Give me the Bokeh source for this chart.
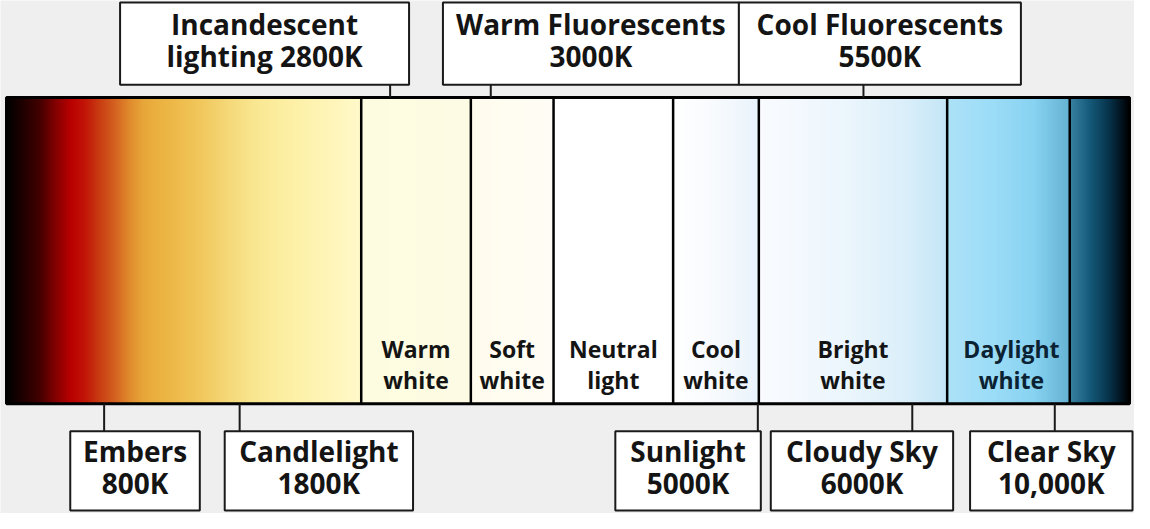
import numpy as np
from bokeh.plotting import figure
from bokeh.models import Range1d, ColumnDataSource
from bokeh.core.properties import value
from bokeh.embed import file_html
from bokeh.resources import INLINE

# ---------------- data ----------------
band_line1 = ["Warm", "Soft", "Neutral", "Cool", "Bright", "Daylight"]
band_line2 = ["white", "white", "light", "white", "white", "white"]

top_line1 = ["Incandescent", "Warm Fluorescents", "Cool Fluorescents"]
top_line2 = ["lighting 2800K", "3000K", "5500K"]

bottom_line1 = ["Embers", "Candlelight", "Sunlight", "Cloudy Sky", "Clear Sky"]
bottom_line2 = ["800K", "1800K", "5000K", "6000K", "10,000K"]

# ---------------- layout ----------------
bar_left, bar_right, bar_top, bar_bottom = 8, 1135, 102, 415
band_edges = [8, 364, 474, 557, 677, 763, 952, 1075, 1135]

top_box_left = [122, 446, 743]
top_box_right = [412, 743, 1026]
top_box_top, top_box_bottom = 5, 89
top_conn_x = [393, 494, 868]

bot_box_left = [72, 227, 619, 775, 975]
bot_box_right = [202, 416, 765, 958, 1138]
bot_box_top, bot_box_bottom = 443, 524
bot_conn_x = [106, 242, 762, 917, 1060]

# gradient colour stops per band (style)
grad_stops = [
    [(8, "#000000"), (20, "#160000"), (41, "#420000"), (58, "#860000"), (72, "#b80000"),
     (86, "#c21408"), (100, "#c83a12"), (115, "#d45e20"), (130, "#e0882c"), (145, "#e8a73a"),
     (165, "#ecb442"), (200, "#f1c65a"), (230, "#f5d878"), (255, "#f9e690"), (290, "#fdf0a4"),
     (330, "#fff5b8"), (364, "#fffacb")],
    [(364, "#fffde0"), (474, "#fdfbe4")],
    [(474, "#fffcee"), (557, "#fffdf6")],
    [(557, "#ffffff"), (677, "#ffffff")],
    [(677, "#ffffff"), (720, "#f8fbfe"), (763, "#eaf4fc")],
    [(763, "#fafcff"), (850, "#ecf6fd"), (910, "#dbeffa"), (952, "#c4e6f7")],
    [(952, "#ade2f7"), (1000, "#9bdcf7"), (1040, "#88d3f1"), (1075, "#66b2d4")],
    [(1075, "#3a82a2"), (1095, "#165a7a"), (1115, "#07324a"), (1135, "#000000")],
]


def hex_rgb(h):
    h = h.lstrip("#")
    return [int(h[i:i + 2], 16) for i in (0, 2, 4)]


ncols = bar_right - bar_left
xs = np.arange(bar_left, bar_right) + 0.5
rgb = np.zeros((ncols, 3))
for stops in grad_stops:
    sx = np.array([s[0] for s in stops], dtype=float)
    sc = np.array([hex_rgb(s[1]) for s in stops], dtype=float)
    mask = (xs >= sx[0]) & (xs <= sx[-1])
    for c in range(3):
        rgb[mask, c] = np.interp(xs[mask], sx, sc[:, c])

img = np.empty((1, ncols), dtype=np.uint32)
view = img.view(dtype=np.uint8).reshape((1, ncols, 4))
view[0, :, 0] = rgb[:, 0].astype(np.uint8)
view[0, :, 1] = rgb[:, 1].astype(np.uint8)
view[0, :, 2] = rgb[:, 2].astype(np.uint8)
view[0, :, 3] = 255

# ---------------- figure ----------------
p = figure(width=1134, height=513, x_range=Range1d(2, 1140), y_range=Range1d(527, 3),
           output_backend="svg", toolbar_location=None, min_border=0)
p.axis.visible = False
p.grid.visible = False
p.outline_line_color = None
p.background_fill_color = "#efefef"
p.border_fill_color = "#efefef"

p.image_rgba(image=[img], x=bar_left, y=bar_top, dw=ncols, dh=bar_bottom - bar_top)

# dividers
inner = band_edges[1:-1]
p.segment(x0=inner, y0=[bar_top] * len(inner), x1=inner, y1=[bar_bottom] * len(inner),
          line_color="#000000", line_width=2.5)
p.quad(left=[bar_left], right=[bar_right], top=[bar_top], bottom=[bar_bottom],
       fill_color=None, line_color="#000000", line_width=3)

# connectors
p.segment(x0=top_conn_x, y0=[top_box_bottom] * 3, x1=top_conn_x, y1=[bar_top] * 3,
          line_color="#1a1a1a", line_width=2)
p.segment(x0=bot_conn_x, y0=[bar_bottom] * 5, x1=bot_conn_x, y1=[bot_box_top] * 5,
          line_color="#1a1a1a", line_width=2)

# boxes
p.quad(left=top_box_left, right=top_box_right, top=[top_box_top] * 3, bottom=[top_box_bottom] * 3,
       fill_color="#ffffff", line_color="#1a1a1a", line_width=2)
p.quad(left=bot_box_left, right=bot_box_right, top=[bot_box_top] * 5, bottom=[bot_box_bottom] * 5,
       fill_color="#ffffff", line_color="#1a1a1a", line_width=2)

font = value("Open Sans")

top_cx = [(a + b) / 2 for a, b in zip(top_box_left, top_box_right)]
src_top = ColumnDataSource(dict(x=top_cx + top_cx, y=[26.5] * 3 + [60] * 3, t=top_line1 + top_line2))
p.text(x="x", y="y", text="t", source=src_top, text_font=font, text_font_style="bold",
       text_font_size="28px", text_align="center", text_baseline="alphabetic", text_color="#141414")

bot_cx = [(a + b) / 2 for a, b in zip(bot_box_left, bot_box_right)]
src_bot = ColumnDataSource(dict(x=bot_cx + bot_cx, y=[463] * 5 + [496] * 5, t=bottom_line1 + bottom_line2))
p.text(x="x", y="y", text="t", source=src_bot, text_font=font, text_font_style="bold",
       text_font_size="28px", text_align="center", text_baseline="alphabetic", text_color="#141414")

band_cx = [(band_edges[i] + band_edges[i + 1]) / 2 for i in range(1, 7)]
band_cx[5] += 3
band_colors = ["#141414"] * 5 + ["#0b2233"]
src_band = ColumnDataSource(dict(x=band_cx + band_cx, y=[359] * 6 + [391] * 6,
                                 t=band_line1 + band_line2, c=band_colors + band_colors))
p.text(x="x", y="y", text="t", source=src_band, text_font=font, text_font_style="bold",
       text_font_size="23px", text_align="center", text_baseline="alphabetic", text_color="c")

open("out.html", "w").write(file_html(p, INLINE))
